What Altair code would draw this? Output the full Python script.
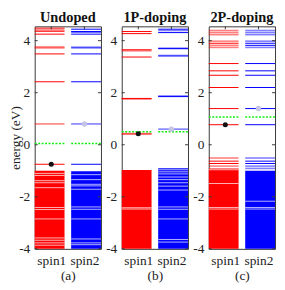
import altair as alt
import pandas as pd

Y_TICKS = [-4, -2, 0, 2, 4]
SPIN_LABELS = ["spin1", "spin2"]
PANEL_TITLES = ["Undoped", "1P-doping", "2P-doping"]
PANEL_TAGS = ["(a)", "(b)", "(c)"]

# ---- Undoped ----
A_UP = [4.48, 4.36, 4.25, 3.49, 2.42, -0.75]
A_UP_SOFT = [4.41, 3.76, 3.72, 0.80]
A_DN = [4.44, 4.35, 4.33, 4.25, 3.49, 2.42, -0.75]
A_DN_SOFT = [3.75, 3.72, 0.80]
A_BAND_TOP = [-1.00, -1.02]
A_UP_GAPS = [-1.10, -1.18, -1.38, -1.46, -1.65, -2.41, -2.49, -2.85, -3.58, -3.67, -3.77, -3.86]
A_DN_GAPS = [-1.15, -1.34, -1.52, -1.58, -1.71, -2.39, -2.48, -2.85, -3.62, -3.77, -3.84]
A_FERMI = 0.05
A_DOTS = [-0.75, 0.80]

# ---- 1P-doping ----
B_UP = [4.35, 4.27, 3.65, 3.37, 1.78, 1.76]
B_UP_SOFT = [3.61, 0.43, 0.41]
B_DN = [4.44, 4.31, 3.71, 3.69, 1.87, 1.85]
B_DN_SOFT = [4.39, 3.43, 3.41, 0.60]
B_BAND_TOP = [-0.97, -0.90]
B_UP_GAPS = [-2.42, -2.47]
B_DN_GAPS = [-0.96, -1.04, -1.12, -1.24, -1.34, -1.46, -1.59, -1.74, -2.39, -2.48, -2.85, -3.64, -3.74]
B_FERMI = 0.50
B_DOTS = [0.42, 0.60]

# ---- 2P-doping ----
C_UP = [3.90, 3.12, 2.84, 2.67, 2.20, 1.39, 0.77, -0.63, -0.72]
C_UP_SOFT = [4.39, 4.31, 4.23, 3.98, 3.82, 3.74, -0.51, -0.82]
C_DN = [3.90, 3.82, 3.12, 2.84, 2.67, 2.20, 1.39, 0.77, -0.63, -0.72]
C_DN_SOFT = [4.39, 4.31, 4.23, 3.98, 3.74, -0.51, -0.82, -0.91]
C_BAND_TOP = [-0.91, -1.00]
C_UP_GAPS = [-0.96, -1.49, -2.41, -2.47]
C_DN_GAPS = [-2.17, -2.41, -2.47]
C_FERMI = 1.07
C_DOTS = [0.77, 1.39]

RED = "#ff0000"
BLUE = "#0000ff"
FRAME = "#3a3a3a"
FONT = "Liberation Serif"
W, H = 67, 225
X_SPAN = {"up": (0.5, 1.4), "dn": (1.6, 2.5)}
Y_MIN, Y_MAX = -4, 4.55

label_expr = "[" + ",".join("'%s'" % s for s in SPIN_LABELS) + "][datum.value - 1]"

colscale = alt.Scale(domain=["up", "dn"], range=[RED, BLUE])


def xenc(field, tag):
    return alt.X(field, type="quantitative",
                 scale=alt.Scale(domain=[0.5, 2.5], nice=False, zero=False),
                 axis=alt.Axis(values=[1, 2], labelExpr=label_expr, title=tag,
                               ticks=False, domain=False, grid=False,
                               labelFlush=False, labelPadding=5, titlePadding=1,
                               labelFontSize=13.5, titleFontSize=13.5,
                               labelFont=FONT, titleFont=FONT,
                               titleFontWeight="normal", labelColor="#222",
                               titleColor="#222"))


def yenc(field, first):
    ax = dict(values=Y_TICKS, labelExpr="datum.value", ticks=False, domain=False,
              grid=False, labelPadding=5, labelFontSize=13.5, labelColor="#222",
              labelFont=FONT)
    if first:
        ax.update(title="energy (eV)", titleFontSize=13.5, titleFontWeight="normal",
                  titlePadding=-4, titleColor="#222", titleFont=FONT)
    else:
        ax.update(title=None)
    return alt.Y(field, type="quantitative",
                 scale=alt.Scale(domain=[Y_MIN, Y_MAX], nice=False, zero=False),
                 axis=alt.Axis(**ax))


def lev_df(up, dn):
    rows = []
    for spin, vals in (("up", up), ("dn", dn)):
        for v in vals:
            rows.append({"spin": spin, "e": v, "x0": X_SPAN[spin][0], "x1": X_SPAN[spin][1]})
    return pd.DataFrame(rows)


def panel(i, up, up_soft, dn, dn_soft, tops, up_gaps, dn_gaps, fermi, dots):
    tag = PANEL_TAGS[i]
    first = i == 0
    X = xenc("x0", tag)
    Y = yenc("e", first)
    C = alt.Color("spin:N", scale=colscale, legend=None)

    band = pd.DataFrame([
        {"spin": "up", "e": Y_MIN, "e2": tops[0], "x0": X_SPAN["up"][0], "x1": X_SPAN["up"][1]},
        {"spin": "dn", "e": Y_MIN, "e2": tops[1], "x0": X_SPAN["dn"][0], "x1": X_SPAN["dn"][1]},
    ])
    band_l = alt.Chart(band).mark_rect().encode(x=X, x2="x1", y=Y, y2="e2", color=C)

    gaps_l = alt.Chart(lev_df(up_gaps, dn_gaps)).mark_rule(
        color="white", opacity=0.7, strokeWidth=1).encode(x=X, x2="x1", y=Y)

    soft_l = alt.Chart(lev_df(up_soft, dn_soft)).mark_rule(
        opacity=0.5, strokeWidth=1.6).encode(x=X, x2="x1", y=Y, color=C)

    sharp_l = alt.Chart(lev_df(up, dn)).mark_rule(strokeWidth=1).encode(
        x=X, x2="x1", y=Y, color=C)

    fermi_l = alt.Chart(lev_df([fermi], [fermi])).mark_rule(
        color="#11ee11", strokeWidth=1.5, strokeDash=[2, 1.5]).encode(x=X, x2="x1", y=Y)

    homo_l = alt.Chart(pd.DataFrame({"x0": [1], "e": [dots[0]]})).mark_circle(
        size=26, opacity=1, color="#111111").encode(x=X, y=Y)
    lumo_l = alt.Chart(pd.DataFrame({"x0": [2], "e": [dots[1]]})).mark_circle(
        size=30, opacity=1, color="#c4c4e4").encode(x=X, y=Y)

    tick_df = pd.DataFrame({"e": Y_TICKS})
    lt = alt.Chart(tick_df).mark_rule(color=FRAME, strokeWidth=1).encode(
        y=Y, x=alt.value(0), x2=alt.value(3))
    rt = alt.Chart(tick_df).mark_rule(color=FRAME, strokeWidth=1).encode(
        y=Y, x=alt.value(W - 3), x2=alt.value(W))
    tt = alt.Chart(pd.DataFrame({"x0": [1, 2]})).mark_rule(color=FRAME, strokeWidth=1).encode(
        x=X, y=alt.value(0), y2=alt.value(3))

    return alt.layer(band_l, gaps_l, soft_l, sharp_l, fermi_l, homo_l, lumo_l, lt, rt, tt).properties(
        width=W, height=H,
        title=alt.TitleParams(PANEL_TITLES[i], fontSize=14.5, fontWeight="bold",
                              font=FONT, offset=0, color="#111"))


pa = panel(0, A_UP, A_UP_SOFT, A_DN, A_DN_SOFT, A_BAND_TOP, A_UP_GAPS, A_DN_GAPS, A_FERMI, A_DOTS)
pb = panel(1, B_UP, B_UP_SOFT, B_DN, B_DN_SOFT, B_BAND_TOP, B_UP_GAPS, B_DN_GAPS, B_FERMI, B_DOTS)
pc = panel(2, C_UP, C_UP_SOFT, C_DN, C_DN_SOFT, C_BAND_TOP, C_UP_GAPS, C_DN_GAPS, C_FERMI, C_DOTS)

chart = alt.hconcat(pa, pb, pc, spacing=2).resolve_scale(
    x="independent", y="independent").properties(
    padding={"left": 0, "top": 0, "right": 0, "bottom": 0}
).configure(font=FONT).configure_view(stroke=FRAME, strokeWidth=1)

chart.save("out.html", embed_options={"renderer": "svg", "actions": False})
